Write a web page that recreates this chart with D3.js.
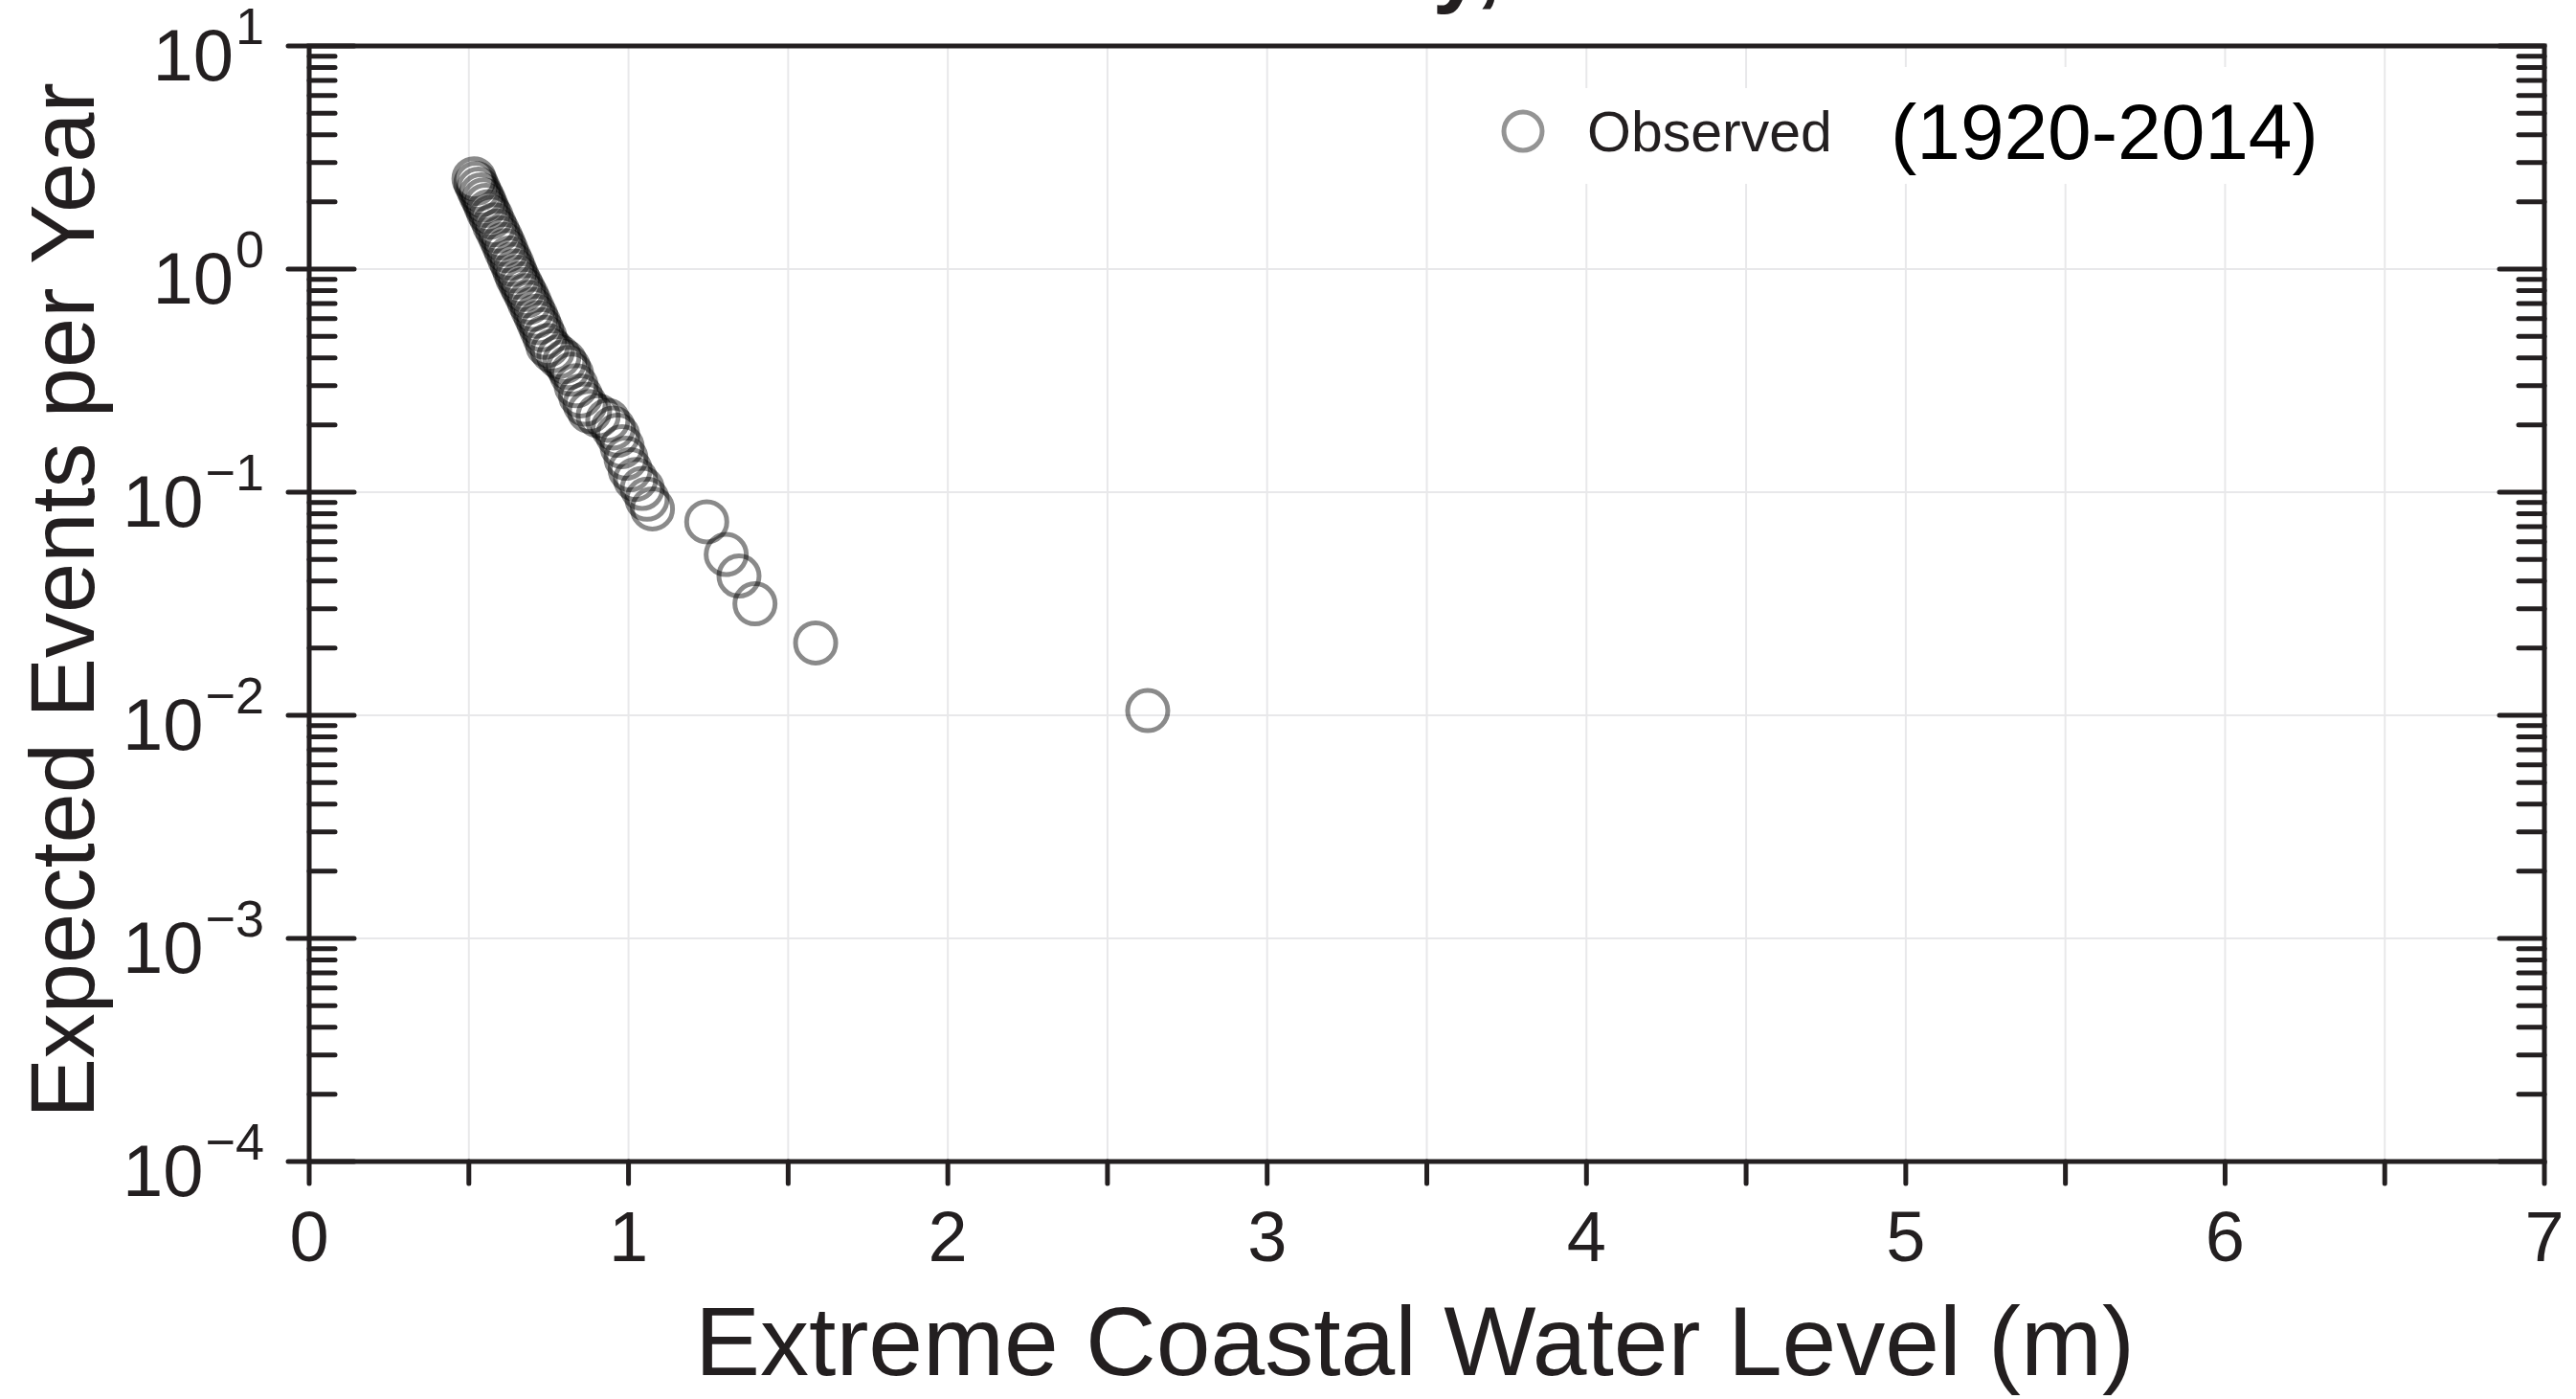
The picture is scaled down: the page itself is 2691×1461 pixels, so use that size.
<!DOCTYPE html>
<html>
<head>
<meta charset="utf-8">
<script src="https://cdn.jsdelivr.net/npm/d3@7"></script>
<style>
  html, body { margin: 0; padding: 0; background: #ffffff; }
  svg { display: block; }
  text { font-family: "Liberation Sans", Helvetica, Arial, sans-serif; fill: #231f20; }
</style>
</head>
<body>
<svg id="chart" width="2691" height="1461"></svg>
<script>
// ---------- data ----------
const waterLevel = [
  0.516, 0.522, 0.530, 0.538, 0.546, 0.553, 0.561, 0.570, 0.580, 0.590,
  0.600, 0.609, 0.617, 0.627, 0.636, 0.644, 0.652, 0.662, 0.671, 0.681,
  0.690, 0.700, 0.710, 0.719, 0.728, 0.738, 0.747, 0.762, 0.782, 0.800,
  0.812, 0.822, 0.836, 0.850, 0.864, 0.878, 0.905, 0.935, 0.952, 0.966,
  0.980, 0.992, 1.005, 1.022, 1.043, 1.058, 1.075,
  1.245, 1.306, 1.346, 1.396, 1.586, 2.626
];
const eventsPerYear = [
  2.54, 2.42, 2.28, 2.15, 2.04, 1.93, 1.81, 1.71, 1.58, 1.48,
  1.38, 1.29, 1.21, 1.12, 1.05, 0.98, 0.92, 0.86, 0.81, 0.76,
  0.71, 0.66, 0.615, 0.575, 0.535, 0.495, 0.455, 0.43, 0.405, 0.385,
  0.362, 0.338, 0.300, 0.270, 0.248, 0.230, 0.220, 0.210, 0.194, 0.180,
  0.160, 0.142, 0.126, 0.114, 0.104, 0.093, 0.0842,
  0.0737, 0.0526, 0.0421, 0.0316, 0.0211, 0.0105
];
const xTickValues = [0, 0.5, 1, 1.5, 2, 2.5, 3, 3.5, 4, 4.5, 5, 5.5, 6, 6.5, 7];
const xTickLabels = ["0", "1", "2", "3", "4", "5", "6", "7"];
const yTickExponents = [1, 0, -1, -2, -3, -4];
const legendLabel = "Observed";
const periodLabel = "(1920-2014)";
const xTitle = "Extreme Coastal Water Level (m)";
const yTitle = "Expected Events per Year";
const chartTitle = "The Battery,";

// ---------- layout ----------
const L = 323, R = 2658, T = 48, B = 1213;
const ink = "#231f20";
const svg = d3.select("#chart");

const x = d3.scaleLinear().domain([0, 7]).range([L, R]);
const y = d3.scaleLog().domain([1e-4, 10]).range([B, T]);

// title (clipped at top, as in the reference)
svg.append("text")
  .attr("x", 1568).attr("y", -5)
  .attr("text-anchor", "end")
  .attr("font-size", 94).attr("font-weight", "bold")
  .text(chartTitle);

// grid
const grid = svg.append("g").attr("stroke", "#e8e8ea").attr("stroke-width", 2);
xTickValues.filter(v => v > 0 && v < 7).forEach(v => {
  grid.append("line").attr("x1", x(v)).attr("x2", x(v)).attr("y1", T).attr("y2", B);
});
yTickExponents.filter(e => e > -4 && e < 1).forEach(e => {
  grid.append("line").attr("x1", L).attr("x2", R).attr("y1", y(Math.pow(10, e))).attr("y2", y(Math.pow(10, e)));
});

// legend / annotation backgrounds
svg.append("rect").attr("x", 1545).attr("y", 92).attr("width", 390).attr("height", 100).attr("fill", "#fff");
svg.append("rect").attr("x", 1962).attr("y", 70).attr("width", 478).attr("height", 122).attr("fill", "#fff");

// points
svg.append("g").selectAll("circle")
  .data(waterLevel.map((v, i) => [v, eventsPerYear[i]]))
  .join("circle")
  .attr("cx", d => x(d[0]))
  .attr("cy", d => y(d[1]))
  .attr("r", 21)
  .attr("fill", "none")
  .attr("stroke", "#000")
  .attr("stroke-opacity", 0.46)
  .attr("stroke-width", 5);

// frame
svg.append("rect")
  .attr("x", L).attr("y", T).attr("width", R - L).attr("height", B - T)
  .attr("fill", "none").attr("stroke", ink).attr("stroke-width", 5);

// y ticks (left and right)
const ticks = svg.append("g").attr("stroke", ink).attr("stroke-width", 5).attr("stroke-linecap", "round");
yTickExponents.forEach(e => {
  const yy = y(Math.pow(10, e));
  ticks.append("line").attr("x1", L - 22).attr("x2", L + 47).attr("y1", yy).attr("y2", yy);
  ticks.append("line").attr("x1", R - 47).attr("x2", R).attr("y1", yy).attr("y2", yy);
  if (e > -4) {
    for (let m = 2; m <= 9; m++) {
      const ym = y(m * Math.pow(10, e - 1));
      ticks.append("line").attr("x1", L).attr("x2", L + 27).attr("y1", ym).attr("y2", ym);
      ticks.append("line").attr("x1", R - 27).attr("x2", R).attr("y1", ym).attr("y2", ym);
    }
  }
});
// x ticks (bottom, outward)
xTickValues.forEach(v => {
  ticks.append("line").attr("x1", x(v)).attr("x2", x(v)).attr("y1", B).attr("y2", B + 23);
});

// x tick labels
xTickLabels.forEach(lbl => {
  svg.append("text")
    .attr("x", x(+lbl)).attr("y", 1317)
    .attr("text-anchor", "middle")
    .attr("font-size", 74)
    .text(lbl);
});

// y tick labels 10^n
yTickExponents.forEach(e => {
  const yy = y(Math.pow(10, e));
  const t = svg.append("text")
    .attr("x", 276).attr("y", yy + 36)
    .attr("text-anchor", "end")
    .attr("font-size", 76);
  t.append("tspan").text("10");
  t.append("tspan")
    .attr("font-size", 54)
    .attr("dy", -38)
    .attr("dx", 2)
    .text(e < 0 ? "\u2212" + Math.abs(e) : String(e));
});

// axis titles
svg.append("text")
  .attr("x", 1478).attr("y", 1436)
  .attr("text-anchor", "middle")
  .attr("font-size", 102)
  .text(xTitle);
svg.append("text")
  .attr("transform", "translate(98,627) rotate(-90)")
  .attr("text-anchor", "middle")
  .attr("font-size", 94)
  .text(yTitle);

// legend
svg.append("circle")
  .attr("cx", 1591).attr("cy", 137).attr("r", 20)
  .attr("fill", "none").attr("stroke", "#000").attr("stroke-opacity", 0.42).attr("stroke-width", 5);
svg.append("text")
  .attr("x", 1658).attr("y", 158)
  .attr("font-size", 59)
  .text(legendLabel);
svg.append("text")
  .attr("x", 1975).attr("y", 166)
  .attr("font-size", 82)
  .style("fill", "#000")
  .text(periodLabel);
</script>
</body>
</html>
